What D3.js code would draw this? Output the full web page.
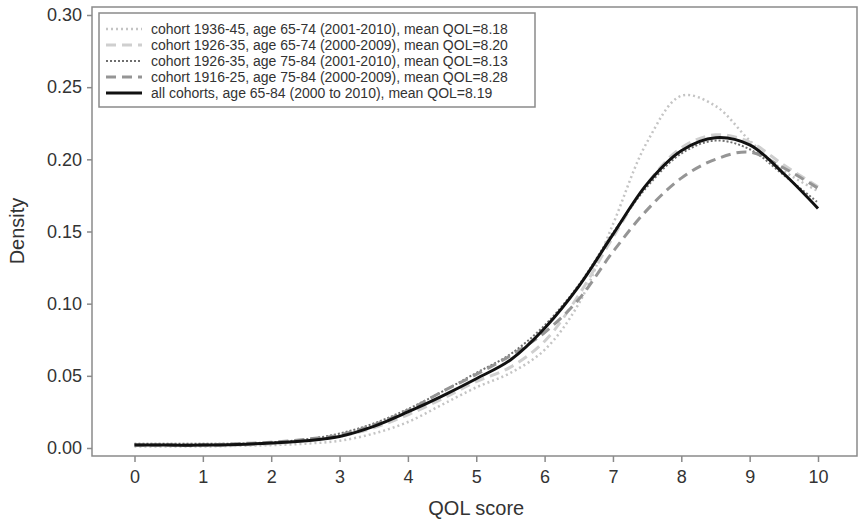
<!DOCTYPE html>
<html>
<head>
<meta charset="utf-8">
<script src="https://cdn.jsdelivr.net/npm/d3@7"></script>
<style>
  body { margin: 0; background: #fff; }
  svg { display: block; font-family: "Liberation Sans", Arial, sans-serif; }
</style>
</head>
<body>
<svg width="858" height="522"></svg>
<script>
// QOL scores sampled every half point, 0 to 10
var scores = [0, 0.5, 1, 1.5, 2, 2.5, 3, 3.5, 4, 4.5, 5, 5.5, 6, 6.5, 7, 7.5, 8, 8.5, 9, 9.5, 10];

var c1936_6574 = [0.001, 0.001, 0.001, 0.0015, 0.002, 0.003, 0.005, 0.010, 0.018, 0.030, 0.042, 0.052, 0.068, 0.100, 0.155, 0.212, 0.244, 0.237, 0.213, 0.192, 0.178];
var c1926_6574 = [0.002, 0.002, 0.002, 0.002, 0.003, 0.005, 0.008, 0.014, 0.023, 0.034, 0.046, 0.056, 0.074, 0.106, 0.146, 0.183, 0.208, 0.217, 0.212, 0.196, 0.181];
var c1926_7584 = [0.003, 0.003, 0.003, 0.003, 0.004, 0.006, 0.010, 0.017, 0.027, 0.039, 0.052, 0.065, 0.085, 0.113, 0.149, 0.181, 0.204, 0.213, 0.207, 0.189, 0.170];
var c1916_7584 = [0.002, 0.002, 0.002, 0.003, 0.004, 0.006, 0.009, 0.016, 0.026, 0.039, 0.051, 0.064, 0.080, 0.103, 0.136, 0.165, 0.187, 0.200, 0.205, 0.194, 0.180];
var allCohorts = [0.002, 0.002, 0.002, 0.0025, 0.0035, 0.005, 0.008, 0.015, 0.025, 0.036, 0.048, 0.061, 0.083, 0.112, 0.148, 0.183, 0.206, 0.215, 0.210, 0.190, 0.166];

var labels = [
  "cohort 1936-45, age 65-74 (2001-2010), mean QOL=8.18",
  "cohort 1926-35, age 65-74 (2000-2009), mean QOL=8.20",
  "cohort 1926-35, age 75-84 (2001-2010), mean QOL=8.13",
  "cohort 1916-25, age 75-84 (2000-2009), mean QOL=8.28",
  "all cohorts, age 65-84 (2000 to 2010), mean QOL=8.19"
];

var xTicks = [0, 1, 2, 3, 4, 5, 6, 7, 8, 9, 10];
var yTicks = [0, 0.05, 0.10, 0.15, 0.20, 0.25, 0.30];

var series = [c1936_6574, c1926_6574, c1926_7584, c1916_7584, allCohorts];
var styles = [
  {color: "#c4c4c4", width: 2.5, dash: "2,3"},
  {color: "#cfcfcf", width: 3, dash: "10,6"},
  {color: "#6e6e6e", width: 2, dash: "2,2"},
  {color: "#959595", width: 3, dash: "10,6"},
  {color: "#111111", width: 3, dash: null}
];

var svg = d3.select("svg");
var plotLeft = 92, plotRight = 857, plotTop = 7, plotBottom = 456;

var x = d3.scaleLinear().domain([0, 10]).range([134.5, 818]);
var y = d3.scaleLinear().domain([0, 0.30]).range([448, 15]);

var axisColor = "#8a8a8a";
var textColor = "#333";

// frame
svg.append("rect")
  .attr("x", plotLeft).attr("y", plotTop)
  .attr("width", plotRight - plotLeft).attr("height", plotBottom - plotTop)
  .attr("fill", "none").attr("stroke", axisColor).attr("stroke-width", 1.5);

// x axis
var xAxis = svg.append("g")
  .attr("transform", "translate(0," + plotBottom + ")")
  .call(d3.axisBottom(x).tickValues(xTicks).tickSize(6).tickPadding(8).tickFormat(d3.format("d")));
xAxis.select(".domain").remove();
xAxis.selectAll("line").attr("stroke", axisColor).attr("stroke-width", 1.5);
xAxis.selectAll("text").attr("fill", textColor).style("font-size", "18px");

// y axis
var yAxis = svg.append("g")
  .attr("transform", "translate(" + plotLeft + ",0)")
  .call(d3.axisLeft(y).tickValues(yTicks).tickSize(5).tickPadding(5).tickFormat(d3.format(".2f")));
yAxis.select(".domain").remove();
yAxis.selectAll("line").attr("stroke", axisColor).attr("stroke-width", 1.5);
yAxis.selectAll("text").attr("fill", textColor).style("font-size", "18px");

// axis titles
svg.append("text")
  .attr("x", (x(0) + x(10)) / 2).attr("y", 515)
  .attr("text-anchor", "middle").attr("fill", textColor)
  .style("font-size", "20px").text("QOL score");

svg.append("text")
  .attr("transform", "translate(24,231) rotate(-90)")
  .attr("text-anchor", "middle").attr("fill", textColor)
  .style("font-size", "20px").text("Density");

// curves
var line = d3.line()
  .x(function(d, i) { return x(scores[i]); })
  .y(function(d) { return y(d); })
  .curve(d3.curveCatmullRom.alpha(0.5));

series.forEach(function(s, i) {
  svg.append("path")
    .datum(s)
    .attr("d", line)
    .attr("fill", "none")
    .attr("stroke", styles[i].color)
    .attr("stroke-width", styles[i].width)
    .attr("stroke-dasharray", styles[i].dash);
});

// legend
var legend = svg.append("g");
legend.append("rect")
  .attr("x", 99).attr("y", 13).attr("width", 436).attr("height", 94)
  .attr("fill", "#fff").attr("stroke", axisColor).attr("stroke-width", 1.5);

labels.forEach(function(lab, i) {
  var ly = 29 + i * 16;
  legend.append("line")
    .attr("x1", 106).attr("x2", 142).attr("y1", ly).attr("y2", ly)
    .attr("stroke", styles[i].color)
    .attr("stroke-width", styles[i].width)
    .attr("stroke-dasharray", styles[i].dash);
  legend.append("text")
    .attr("x", 151).attr("y", ly + 5)
    .attr("fill", textColor)
    .style("font-size", "14px")
    .text(lab);
});
</script>
</body>
</html>
